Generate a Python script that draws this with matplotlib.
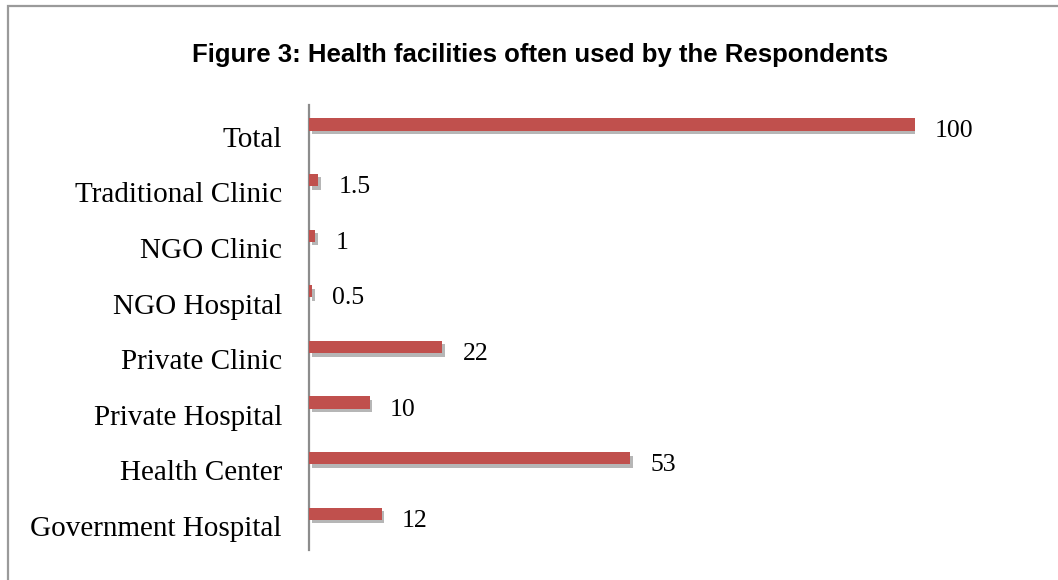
import matplotlib.pyplot as plt
import matplotlib.patheffects as pe
from matplotlib.patches import Rectangle

facilities = ["Government Hospital", "Health Center", "Private Hospital", "Private Clinic",
              "NGO Hospital", "NGO Clinic", "Traditional Clinic", "Total"]
percent = [12, 53, 10, 22, 0.5, 1, 1.5, 100]
value_labels = ["12", "53", "10", "22", "0.5", "1", "1.5", "100"]

W, H = 1058, 580
fig = plt.figure(figsize=(W / 100, H / 100), dpi=100)
fig.patch.set_facecolor("white")

# thin grey frame around the chart area
fig.add_artist(Rectangle((8 / W, -0.05), 1.1, 1 - 6 / H + 0.05, transform=fig.transFigure,
                         fill=False, edgecolor="#9a9a9a", linewidth=1.6))

ax = fig.add_axes([309 / W, 1 - 550 / H, (915 - 309) / W, (550 - 105) / H])

pos = list(range(len(facilities)))
bar_pos = [p + 0.22 for p in pos]
bars = ax.barh(bar_pos, percent, height=0.22, color="#C0504D", zorder=3)
for b in bars:
    b.set_path_effects([pe.SimplePatchShadow(offset=(2, -2.5), shadow_rgbFace="#6e6e6e", alpha=0.5),
                        pe.Normal()])

for y, v, lab in zip(bar_pos, percent, value_labels):
    ax.annotate(lab, (v, y), xytext=(14.5, -5), textcoords="offset points",
                ha="left", va="center", fontsize=18.5, family="Liberation Serif",
                annotation_clip=False)

ax.set_xlim(0, 100)
ax.set_ylim(-0.43, len(facilities) - 0.43)
ax.set_yticks(pos)
ax.set_yticklabels(facilities, family="Liberation Serif", fontsize=21)
ax.tick_params(axis="y", length=0, pad=19.5)
ax.set_xticks([])

for s in ["top", "right", "bottom"]:
    ax.spines[s].set_visible(False)
ax.spines["left"].set_color("#8c8c8c")
ax.spines["left"].set_linewidth(1.6)

fig.text(540 / W, 1 - 55 / H, "Figure 3: Health facilities often used by the Respondents",
         ha="center", va="center", fontsize=18.5, fontweight="bold", family="Liberation Sans")

fig.savefig("out.png", dpi=100)
